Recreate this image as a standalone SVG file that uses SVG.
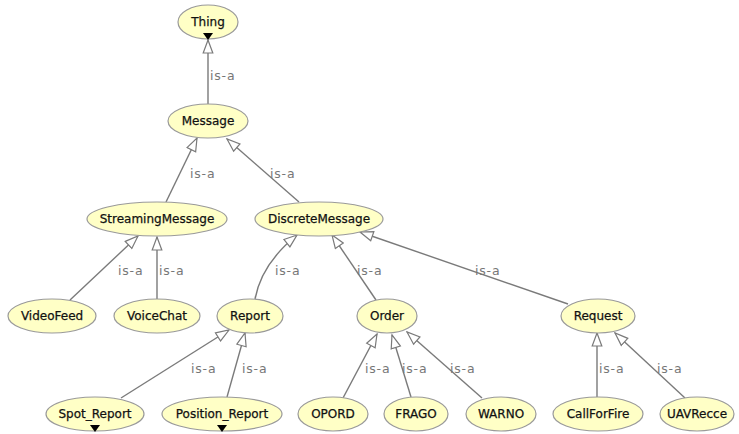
<svg xmlns="http://www.w3.org/2000/svg" width="739" height="434" viewBox="0 0 739 434">
<style>
.n ellipse{fill:#ffffc6;stroke:#9a9a9a;stroke-width:1.2}
.n text{font-family:"DejaVu Sans",sans-serif;font-size:12px;fill:#111;stroke:#111;stroke-width:0.25;text-anchor:middle}
.e path{fill:none;stroke:#7a7a7a;stroke-width:1.4;marker-end:url(#hollow)}
.l{font-family:"DejaVu Sans",sans-serif;font-size:12.5px;fill:#777;letter-spacing:0.8px}
.tri{fill:#000}
</style>
<defs>
<marker id="hollow" markerUnits="userSpaceOnUse" markerWidth="16" markerHeight="12" viewBox="0 0 16 12" refX="14" refY="6" orient="auto">
<path d="M1,1.2 L14,6 L1,10.8 Z" fill="#fff" stroke="#7a7a7a" stroke-width="1.2"/>
</marker>
</defs>
<rect width="739" height="434" fill="#fff"/>
<g id="connectors" class="e">
<path d="M208,104 L208,40"/>
<path d="M166,202 L197,138"/>
<path d="M299,202 L227,139"/>
<path d="M70,300 L138,236"/>
<path d="M157,299 L157,237"/>
<path d="M255,299 C260,272 276,252 297,235"/>
<path d="M376,300 L332,235"/>
<path d="M568,304 L360,232"/>
<path d="M121,398 L229,330"/>
<path d="M227,397 L245,333"/>
<path d="M343,398 L377,334"/>
<path d="M411,397 L392,335"/>
<path d="M482,398 L407,332"/>
<path d="M597,397 L597,333"/>
<path d="M685,398 L615,333"/>
</g>
<g id="labels" class="l">
<text x="210" y="80">is-a</text>
<text x="190" y="178">is-a</text>
<text x="270" y="178">is-a</text>
<text x="118" y="275">is-a</text>
<text x="159" y="275">is-a</text>
<text x="275" y="275">is-a</text>
<text x="357" y="275">is-a</text>
<text x="475" y="275">is-a</text>
<text x="191" y="373">is-a</text>
<text x="242" y="373">is-a</text>
<text x="365" y="373">is-a</text>
<text x="402" y="373">is-a</text>
<text x="450" y="373">is-a</text>
<text x="599" y="373">is-a</text>
<text x="657" y="373">is-a</text>
</g>
<g id="Thing" class="n"><ellipse cx="208" cy="22" rx="30" ry="17"/><text x="208" y="26">Thing</text><path class="tri" d="M203,33 L213,33 L208,40 Z"/></g>
<g id="Message" class="n"><ellipse cx="208" cy="121" rx="40" ry="17"/><text x="208" y="125">Message</text></g>
<g id="StreamingMessage" class="n"><ellipse cx="157" cy="219" rx="70" ry="17"/><text x="157" y="223">StreamingMessage</text></g>
<g id="DiscreteMessage" class="n"><ellipse cx="319" cy="219" rx="64" ry="17"/><text x="319" y="223">DiscreteMessage</text></g>
<g id="VideoFeed" class="n"><ellipse cx="52" cy="316" rx="44" ry="17"/><text x="52" y="320">VideoFeed</text></g>
<g id="VoiceChat" class="n"><ellipse cx="157" cy="316" rx="43" ry="17"/><text x="157" y="320">VoiceChat</text></g>
<g id="Report" class="n"><ellipse cx="250" cy="316" rx="33" ry="17"/><text x="250" y="320">Report</text></g>
<g id="Order" class="n"><ellipse cx="387" cy="316" rx="30" ry="17"/><text x="387" y="320">Order</text></g>
<g id="Request" class="n"><ellipse cx="598" cy="316" rx="37" ry="17"/><text x="598" y="320">Request</text></g>
<g id="Spot_Report" class="n"><ellipse cx="95" cy="414" rx="49" ry="17"/><text x="95" y="418">Spot_Report</text><path class="tri" d="M90,425 L100,425 L95,432 Z"/></g>
<g id="Position_Report" class="n"><ellipse cx="222" cy="414" rx="60" ry="17"/><text x="222" y="418">Position_Report</text><path class="tri" d="M217,425 L227,425 L222,432 Z"/></g>
<g id="OPORD" class="n"><ellipse cx="333" cy="414" rx="35" ry="17"/><text x="333" y="418">OPORD</text></g>
<g id="FRAGO" class="n"><ellipse cx="416" cy="414" rx="32" ry="17"/><text x="416" y="418">FRAGO</text></g>
<g id="WARNO" class="n"><ellipse cx="501" cy="414" rx="35" ry="17"/><text x="501" y="418">WARNO</text></g>
<g id="CallForFire" class="n"><ellipse cx="598" cy="414" rx="45" ry="17"/><text x="598" y="418">CallForFire</text></g>
<g id="UAVRecce" class="n"><ellipse cx="697" cy="414" rx="37" ry="17"/><text x="697" y="418">UAVRecce</text></g>
</svg>
